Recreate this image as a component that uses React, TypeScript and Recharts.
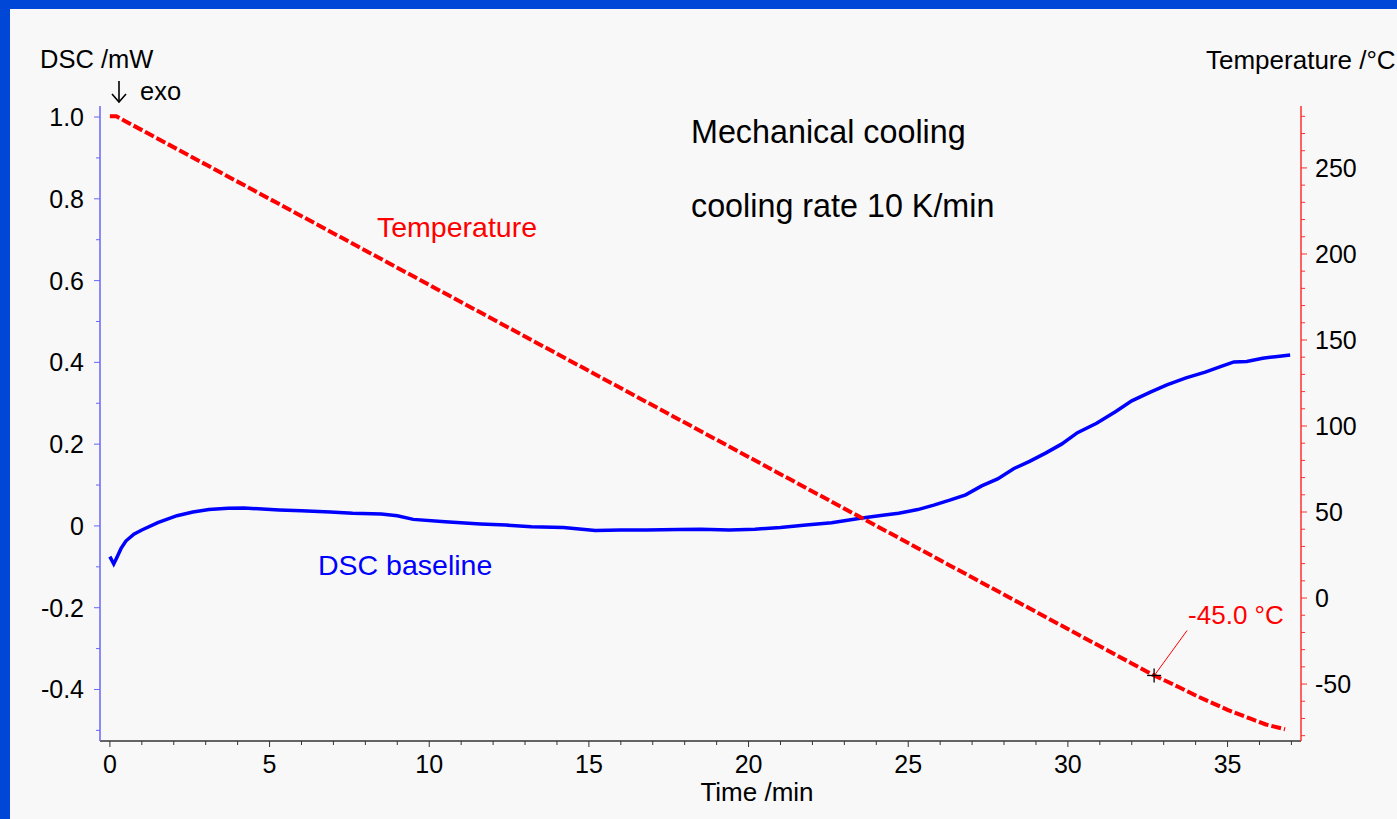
import { ComposedChart, Line, XAxis, YAxis, ReferenceDot } from 'recharts';

const FONT = '"Liberation Sans", Arial, sans-serif';

// axis ticks (major ones get a label)
const timeTicks = [0, 1, 2, 3, 4, 5, 6, 7, 8, 9, 10, 11, 12, 13, 14, 15, 16, 17, 18, 19, 20, 21, 22, 23, 24, 25, 26, 27, 28, 29, 30, 31, 32, 33, 34, 35, 36, 37];
const dscTicks = [-0.5, -0.4, -0.3, -0.2, -0.1, 0, 0.1, 0.2, 0.3, 0.4, 0.5, 0.6, 0.7, 0.8, 0.9, 1.0];
const tempTicks = [-80, -70, -60, -50, -40, -30, -20, -10, 0, 10, 20, 30, 40, 50, 60, 70, 80, 90, 100, 110, 120, 130, 140, 150, 160, 170, 180, 190, 200, 210, 220, 230, 240, 250, 260, 270, 280];

// DSC baseline (mW) vs time (min)
const dscTime = [0, 0.12, 0.2, 0.35, 0.5, 0.75, 1.0, 1.5, 2.1, 2.6, 3.1, 3.7, 4.2, 5.3, 6.0, 6.9, 7.6, 8.5, 9.0, 9.5, 10.5, 11.6, 12.4, 13.2, 14.2, 15.2, 16.0, 16.8, 17.8, 18.5, 19.4, 20.2, 21.0, 21.8, 22.6, 23.5, 24.2, 24.7, 25.3, 25.8, 26.3, 26.8, 27.3, 27.8, 28.3, 28.8, 29.3, 29.8, 30.3, 30.9, 31.5, 32.0, 32.6, 33.1, 33.7, 34.3, 34.8, 35.2, 35.6, 36.1, 36.5, 36.96];
const dscValue = [-0.075, -0.093, -0.08, -0.055, -0.037, -0.02, -0.01, 0.008, 0.025, 0.034, 0.04, 0.043, 0.044, 0.039, 0.037, 0.034, 0.031, 0.029, 0.025, 0.016, 0.01, 0.005, 0.002, -0.002, -0.004, -0.011, -0.01, -0.01, -0.009, -0.008, -0.01, -0.008, -0.004, 0.002, 0.008, 0.019, 0.026, 0.031, 0.04, 0.051, 0.063, 0.076, 0.098, 0.115, 0.14, 0.158, 0.178, 0.2, 0.228, 0.251, 0.28, 0.306, 0.328, 0.345, 0.362, 0.376, 0.39, 0.401, 0.402, 0.41, 0.414, 0.418];

// Temperature (°C) vs time (min)
const tempTime = [0, 0.2, 5, 10, 15, 20, 25, 30, 32, 32.7, 33.5, 34.1, 35, 35.7, 36.2, 36.8];
const tempValue = [280, 280, 232, 182, 132, 82, 32, -18, -38, -45, -52, -57.5, -65, -70, -73.5, -76.3];

const dscData = dscTime.map((t, i) => ({ time: t, dsc: dscValue[i] }));
const tempData = tempTime.map((t, i) => ({ time: t, temp: tempValue[i] }));

function TimeTick({ x, y, payload }: any) {
  const major = payload.value % 5 === 0;
  return (
    <g>
      <line x1={x} y1={y} x2={x} y2={y + (major ? 6 : 4)} stroke="#333" />
      {major && (
        <text x={x} y={y + 32} textAnchor="middle" fontSize={25} fontFamily={FONT} fill="#000">
          {payload.value}
        </text>
      )}
    </g>
  );
}

function DscTick({ x, y, payload }: any) {
  const major = Math.round(payload.value * 10) % 2 === 0;
  const label = payload.value === 0 ? '0' : payload.value.toFixed(1);
  return (
    <g>
      <line x1={x - (major ? 6 : 4)} y1={y} x2={x} y2={y} stroke="#6666ff" />
      {major && (
        <text x={x - 16} y={y + 9} textAnchor="end" fontSize={25} fontFamily={FONT} fill="#000">
          {label}
        </text>
      )}
    </g>
  );
}

function TempTick({ x, y, payload }: any) {
  const major = payload.value % 50 === 0;
  return (
    <g>
      <line x1={x} y1={y} x2={x + (major ? 6 : 4)} y2={y} stroke="#ff3030" />
      {major && (
        <text x={x + 14} y={y + 9} textAnchor="start" fontSize={25} fontFamily={FONT} fill="#000">
          {payload.value}
        </text>
      )}
    </g>
  );
}

function Marker({ cx, cy }: any) {
  return (
    <g>
      <line x1={cx + 1} y1={cy - 1} x2={cx + 33} y2={cy - 45} stroke="#ff0000" strokeWidth={1} />
      <line x1={cx - 7} y1={cy} x2={cx + 7} y2={cy} stroke="#000" strokeWidth={1.3} />
      <line x1={cx} y1={cy - 7} x2={cx} y2={cy + 7} stroke="#000" strokeWidth={1.3} />
      <text x={cx + 34} y={cy - 51} fontSize={26} fontFamily={FONT} fill="#ff0000">
        -45.0 °C
      </text>
    </g>
  );
}

export default function App() {
  return (
    <div style={{ position: 'fixed', left: 0, top: 0, width: 1397, height: 819, overflow: 'hidden' }}>
      <div
        style={{
          position: 'absolute',
          left: 0,
          top: 0,
          width: 1397,
          height: 819,
          boxSizing: 'border-box',
          background: '#f8f8f8',
          borderTop: '9px solid #0047d8',
          borderLeft: '10px solid #0047d8',
        }}
      />
      <div style={{ position: 'absolute', left: 0, top: 0 }}>
        <ComposedChart width={1397} height={819} margin={{ top: 106, right: 36, left: 40, bottom: 38 }}>
          <XAxis
            xAxisId="t"
            dataKey="time"
            type="number"
            domain={[-0.31, 37.3]}
            allowDataOverflow
            ticks={timeTicks}
            interval={0}
            height={40}
            tickSize={0}
            tickMargin={0}
            tickLine={false}
            axisLine={{ stroke: '#333', strokeWidth: 1.5 }}
            tick={<TimeTick />}
          />
          <YAxis
            yAxisId="dsc"
            orientation="left"
            type="number"
            domain={[-0.526, 1.027]}
            allowDataOverflow
            ticks={dscTicks}
            interval={0}
            width={60}
            tickSize={0}
            tickMargin={0}
            tickLine={false}
            axisLine={{ stroke: '#6666ff', strokeWidth: 1.5 }}
            tick={<DscTick />}
          />
          <YAxis
            yAxisId="temp"
            orientation="right"
            type="number"
            domain={[-83.1, 286]}
            allowDataOverflow
            ticks={tempTicks}
            interval={0}
            width={60}
            tickSize={0}
            tickMargin={0}
            tickLine={false}
            axisLine={{ stroke: '#ff3030', strokeWidth: 1.5 }}
            tick={<TempTick />}
          />
          <Line
            xAxisId="t"
            yAxisId="dsc"
            data={dscData}
            dataKey="dsc"
            type="linear"
            stroke="#0000ff"
            strokeWidth={3.5}
            dot={false}
            isAnimationActive={false}
          />
          <Line
            xAxisId="t"
            yAxisId="temp"
            data={tempData}
            dataKey="temp"
            type="linear"
            stroke="#ff0000"
            strokeWidth={4}
            strokeDasharray="10 3"
            dot={false}
            isAnimationActive={false}
          />
          <ReferenceDot xAxisId="t" yAxisId="temp" x={32.7} y={-45} r={0} shape={<Marker />} />
        </ComposedChart>
      </div>
      <svg width={1397} height={819} style={{ position: 'absolute', left: 0, top: 0, pointerEvents: 'none' }} fontFamily={FONT}>
        <text x={40} y={68} fontSize={25.5} fill="#000">DSC /mW</text>
        <g stroke="#000" strokeWidth={1.6} fill="none">
          <line x1={119} y1={81} x2={119} y2={102} />
          <polyline points="112,94 119,102 126,94" />
        </g>
        <text x={140} y={100} fontSize={25.5} fill="#000">exo</text>
        <text x={1206} y={69} fontSize={26} fill="#000">Temperature /°C</text>
        <text x={757} y={801} fontSize={26} textAnchor="middle" fill="#000">Time /min</text>
        <text x={691} y={143} fontSize={32.3} fill="#000">Mechanical cooling</text>
        <text x={691} y={217} fontSize={32.3} fill="#000">cooling rate 10 K/min</text>
        <text x={377} y={237} fontSize={28.5} fill="#ff0000">Temperature</text>
        <text x={318} y={575} fontSize={28.5} fill="#0000ff">DSC baseline</text>
      </svg>
    </div>
  );
}
